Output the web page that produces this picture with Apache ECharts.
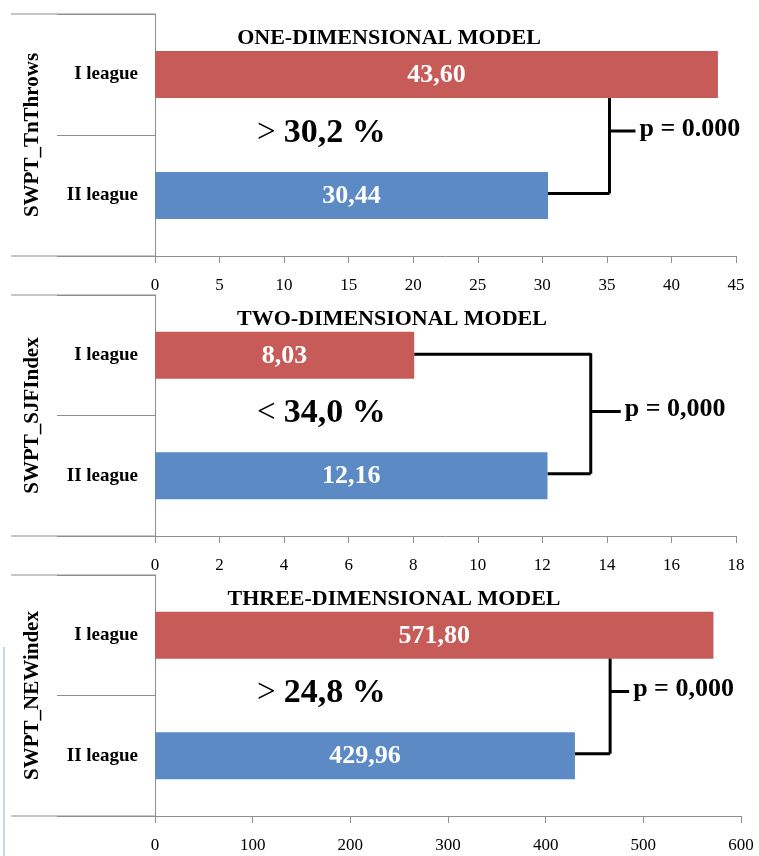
<!DOCTYPE html>
<html>
<head>
<meta charset="utf-8">
<script src="https://cdn.jsdelivr.net/npm/echarts@6/dist/echarts.min.js"></script>
<style>
html,body{margin:0;padding:0;background:#fff;}
#c{width:759px;height:856px;}
</style>
</head>
<body>
<div id="c"></div>
<script>
// ---- data ----
const categories = ['I league', 'II league'];
const titles = ['ONE-DIMENSIONAL MODEL', 'TWO-DIMENSIONAL MODEL', 'THREE-DIMENSIONAL MODEL'];
const axisNames = ['SWPT_TnThrows', 'SWPT_SJFIndex', 'SWPT_NEWindex'];
const valuesI = [43.60, 8.03, 571.80];
const valuesII = [30.44, 12.16, 429.96];
const axisMax = [45, 18, 600];
const axisInterval = [5, 2, 100];
const diffSign = ['>', '<', '>'];
const diffPct = ['30,2 %', '34,0 %', '24,8 %'];
const pLabels = ['p = 0.000', 'p = 0,000', 'p = 0,000'];
const bracketX = [35.2, 13.5, 466];

// ---- layout ----
const FONT = '"Liberation Serif","Times New Roman",serif';
const RED = '#C65B58', BLUE = '#5B8AC4', GRAY = '#8e8e8e';
const grids = [
  {left: 155, top: 14, right: 23, height: 242},
  {left: 155, top: 295, right: 23, height: 241},
  {left: 155, top: 575, right: 18, height: 241}
];
const titleX = [384, 387, 389];

const chart = echarts.init(document.getElementById('c'), null, {renderer: 'canvas'});

const option = {
  animation: false,
  backgroundColor: '#fff',
  title: titles.map((t, i) => ({
    text: t, left: titleX[i], top: grids[i].top + 8, textAlign: 'center',
    textStyle: {fontFamily: FONT, fontWeight: 'bold', fontSize: 22, color: '#000'}
  })),
  grid: grids.map(g => Object.assign({containLabel: false}, g)),
  xAxis: grids.map((g, i) => ({
    type: 'value', gridIndex: i, min: 0, max: axisMax[i], interval: axisInterval[i],
    axisLine: {show: true, lineStyle: {color: GRAY, width: 1}},
    axisTick: {show: true, length: 7, lineStyle: {color: GRAY}},
    splitLine: {show: false},
    axisLabel: {fontFamily: FONT, fontSize: 17, color: '#000', margin: 21}
  })),
  yAxis: grids.map((g, i) => ({
    type: 'category', gridIndex: i, data: categories, inverse: true,
    axisLine: {show: true, lineStyle: {color: GRAY, width: 1}},
    axisTick: {show: true, length: 98, lineStyle: {color: GRAY}},
    axisLabel: {fontFamily: FONT, fontSize: 19, fontWeight: 'bold', color: '#000', margin: 17},
    name: axisNames[i], nameLocation: 'middle', nameRotate: 90, nameGap: 112,
    nameTextStyle: {fontFamily: FONT, fontSize: 21, fontWeight: 'bold', color: '#000'}
  })),
  series: grids.map((g, i) => ({
    type: 'bar', xAxisIndex: i, yAxisIndex: i, barWidth: 47,
    data: [
      {value: valuesI[i], itemStyle: {color: RED}},
      {value: valuesII[i], itemStyle: {color: BLUE}}
    ],
    label: {
      show: true, position: 'inside', color: '#fff', fontFamily: FONT,
      fontWeight: 'bold', fontSize: 26, offset: [0, 1],
      formatter: p => p.value.toFixed(2).replace('.', ',')
    }
  }))
};
chart.setOption(option);

// ---- annotations computed from the axes ----
const graphics = [];
grids.forEach((g, i) => {
  const f = {xAxisIndex: i, yAxisIndex: i};
  const pI = chart.convertToPixel(f, [valuesI[i], categories[0]]);
  const pII = chart.convertToPixel(f, [valuesII[i], categories[1]]);
  const x0 = chart.convertToPixel(f, [0, categories[0]])[0];
  const bx = chart.convertToPixel(f, [bracketX[i], categories[0]])[0];
  const band = pII[1] - pI[1];
  const topY = pI[1] - band / 2, midY = (pI[1] + pII[1]) / 2, botY = pII[1] + band / 2;
  // left extension lines (top border and axis baseline)
  graphics.push({type: 'line', shape: {x1: 11, y1: topY, x2: x0, y2: topY}, style: {stroke: GRAY, lineWidth: 1}});
  graphics.push({type: 'line', shape: {x1: 11, y1: botY, x2: x0, y2: botY}, style: {stroke: GRAY, lineWidth: 1}});
  // bracket
  const st = {stroke: '#000', lineWidth: 3};
  graphics.push({type: 'line', shape: {x1: bx, y1: pI[1] - 2, x2: bx, y2: pII[1] - 2}, style: st});
  if (pI[0] < bx) graphics.push({type: 'line', shape: {x1: pI[0], y1: pI[1] - 1, x2: bx, y2: pI[1] - 1}, style: st});
  if (pII[0] < bx) graphics.push({type: 'line', shape: {x1: pII[0], y1: pII[1] - 2, x2: bx, y2: pII[1] - 2}, style: st});
  const tickEnd = bx + (i === 2 ? 19 : (i === 1 ? 30 : 26));
  graphics.push({type: 'line', shape: {x1: bx, y1: midY - 4, x2: tickEnd, y2: midY - 4}, style: st});
  graphics.push({type: 'text', x: tickEnd + 4, y: midY - 6,
    style: {text: pLabels[i], fill: '#000', font: 'bold 26px ' + FONT, textAlign: 'left', textVerticalAlign: 'middle'}});
  // percent difference
  graphics.push({type: 'text', x: x0 + 102, y: midY - 2,
    style: {
      text: '{s|' + diffSign[i] + ' }{n|' + diffPct[i] + '}',
      textAlign: 'left', textVerticalAlign: 'middle',
      rich: {
        s: {font: 'normal 33px ' + FONT, fill: '#000'},
        n: {font: 'bold 34px ' + FONT, fill: '#000'}
      }
    }});
});
// faint vertical edge line at lower-left
graphics.push({type: 'line', shape: {x1: 4, y1: 647, x2: 4, y2: 856}, style: {stroke: '#c8d4e8', lineWidth: 2}});
chart.setOption({graphic: graphics});
</script>
</body>
</html>
